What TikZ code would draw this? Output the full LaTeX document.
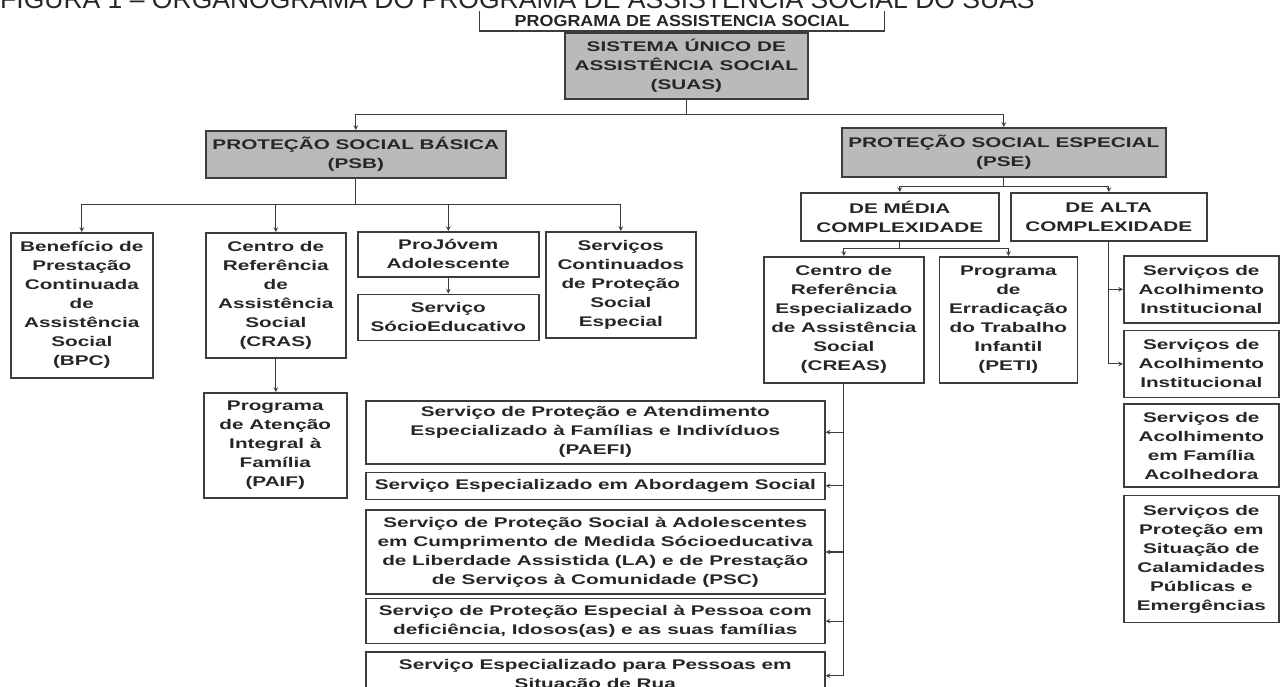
\documentclass[tikz,border=0pt]{standalone}
\usepackage{fontspec}
\newfontfamily\boxfont{Liberation Sans}[FakeStretch=1.48]
\newfontfamily\progfont{Liberation Sans}[FakeStretch=1.12]
\newfontfamily\capfont{Liberation Sans}[FakeStretch=1.02]
\usepackage{tikz}
\usetikzlibrary{arrows,positioning}
\definecolor{boxline}{RGB}{60,60,60}
\definecolor{suasgray}{RGB}{186,186,186}

\begin{document}
\begin{tikzpicture}[x=1pt, y=-1pt,
    box/.style={rectangle, draw=boxline, line width=1.6pt, align=center, inner sep=1pt, text=black!85, font=\boxfont\bfseries\fontsize{14}{19}\selectfont},
    shaded/.style={box, fill=suasgray},
    arrow/.style={->, >=stealth, line width=1.1pt, draw=boxline}
]
\useasboundingbox (0,0) rectangle (1284,687);

\node[anchor=base west, inner sep=0pt, text=black!85, font=\capfont\fontsize{26}{30}\selectfont] (caption) at (0,9) {FIGURA 1 – ORGANOGRAMA DO PROGRAMA DE ASSISTENCIA SOCIAL DO SUAS};
\node[anchor=south, minimum width=404, minimum height=20, inner sep=0pt, text=black!85, font=\progfont\bfseries\fontsize{16}{18}\selectfont] (prog) at (682,31) {PROGRAMA DE ASSISTENCIA SOCIAL};
\draw[boxline, line width=1.2pt] (prog.north west) -- (prog.south west) -- (prog.south east) -- (prog.north east);

\node[shaded, anchor=north west, minimum width=243, minimum height=66] (suas) at (564,32) {SISTEMA ÚNICO DE\\ASSISTÊNCIA SOCIAL\\(SUAS)};
\node[shaded, anchor=north west, minimum width=300, minimum height=47] (psb) at (205,130) {PROTEÇÃO SOCIAL BÁSICA\\(PSB)};
\node[shaded, anchor=north west, minimum width=324, minimum height=49] (pse) at (841,127) {PROTEÇÃO SOCIAL ESPECIAL\\(PSE)};

\node[box, anchor=north west, minimum width=198, minimum height=48] (media) at (800,192) {DE MÉDIA\\COMPLEXIDADE};
\node[box, anchor=north west, minimum width=196, minimum height=48] (alta) at (1010,192) {DE ALTA\\COMPLEXIDADE};

\node[box, anchor=north west, minimum width=142, minimum height=145] (bpc) at (10,232) {Benefício de\\Prestação\\Continuada\\de\\Assistência\\Social\\(BPC)};
\node[box, anchor=north west, minimum width=140, minimum height=125] (cras) at (205,232) {Centro de\\Referência\\de\\Assistência\\Social\\(CRAS)};
\node[box, anchor=north west, minimum width=181, minimum height=45] (projovem) at (357,231) {ProJóvem\\Adolescente};
\node[box, below=16pt of projovem, minimum width=181, minimum height=46] (socioed) {Serviço\\SócioEducativo};
\node[box, anchor=north west, minimum width=150, minimum height=106] (servcont) at (545,231) {Serviços\\Continuados\\de Proteção\\Social\\Especial};
\node[box, anchor=north west, minimum width=143, minimum height=105] (paif) at (203,392) {Programa\\de Atenção\\Integral à\\Família\\(PAIF)};

\node[box, anchor=north west, minimum width=160, minimum height=126] (creas) at (763,256) {Centro de\\Referência\\Especializado\\de Assistência\\Social\\(CREAS)};
\node[box, right=14pt of creas, minimum width=138, minimum height=126] (peti) {Programa\\de\\Erradicação\\do Trabalho\\Infantil\\(PETI)};

\node[box, anchor=north west, minimum width=459, minimum height=63] (paefi) at (365,400) {Serviço de Proteção e Atendimento\\Especializado à Famílias e Indivíduos\\(PAEFI)};
\node[box, below=7pt of paefi, minimum width=459, minimum height=27] (abord) {Serviço Especializado em Abordagem Social};
\node[box, below=9pt of abord, minimum width=459, minimum height=84] (la) {Serviço de Proteção Social à Adolescentes\\em Cumprimento de Medida Sócioeducativa\\de Liberdade Assistida (LA) e de Prestação\\de Serviços à Comunidade (PSC)};
\node[box, below=3pt of la, minimum width=459, minimum height=45] (def) {Serviço de Proteção Especial à Pessoa com\\deficiência, Idosos(as) e as suas famílias};
\node[box, below=7pt of def, minimum width=459, minimum height=47] (rua) {Serviço Especializado para Pessoas em\\Situação de Rua};

\node[box, anchor=north west, minimum width=155, minimum height=67] (acolha) at (1123,255) {Serviços de\\Acolhimento\\Institucional};
\node[box, below=6pt of acolha, minimum width=155, minimum height=67] (acolhb) {Serviços de\\Acolhimento\\Institucional};
\node[box, below=5pt of acolhb, minimum width=155, minimum height=83] (familia) {Serviços de\\Acolhimento\\em Família\\Acolhedora};
\node[box, below=7pt of familia, minimum width=155, minimum height=127] (calam) {Serviços de\\Proteção em\\Situação de\\Calamidades\\Públicas e\\Emergências};

\draw[arrow] (suas.south) -- ++(0,15) -| (psb);
\draw[arrow] (suas.south) -- ++(0,15) -| (pse);
\foreach \n in {bpc,cras,projovem,servcont}
    \draw[arrow] (psb.south) -- ++(0,26) -| (\n);
\draw[arrow] (projovem) -- (socioed);
\draw[arrow] (cras.south) -- (cras.south |- paif.north);
\draw[arrow] (pse.south) -- ++(0,9) -| (media);
\draw[arrow] (pse.south) -- ++(0,9) -| (alta);
\draw[arrow] (media.south) -- ++(0,7) -| (creas);
\draw[arrow] (media.south) -- ++(0,7) -| (peti);
\foreach \n in {paefi,abord,la,def,rua}
    \draw[arrow] (creas.south) |- (\n.east);
\foreach \n in {acolha,acolhb}
    \draw[arrow] (alta.south) |- (\n.west);

\end{tikzpicture}
\end{document}
